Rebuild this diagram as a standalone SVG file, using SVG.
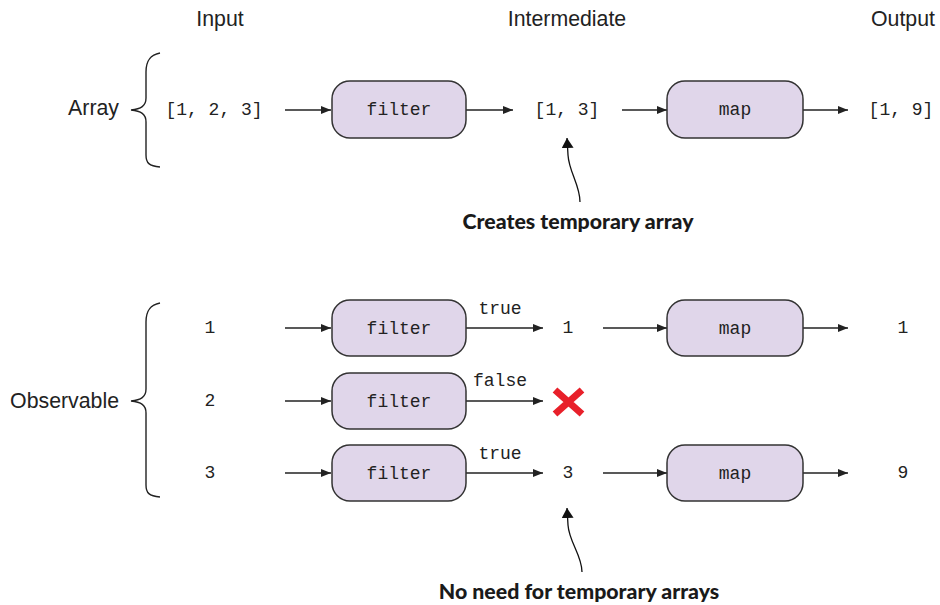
<svg xmlns="http://www.w3.org/2000/svg" width="940" height="605" viewBox="0 0 940 605">
<defs>
<marker id="ah" viewBox="0 0 10 8" refX="10" refY="4" markerWidth="10" markerHeight="8" markerUnits="userSpaceOnUse" orient="auto">
<path d="M0,0 L10,4 L0,8 Z" fill="#222"/>
</marker>
<marker id="ah2" viewBox="0 0 10 12" refX="10" refY="6" markerWidth="10" markerHeight="12" markerUnits="userSpaceOnUse" orient="auto">
<path d="M0,0 L10,6 L0,12 Z" fill="#111"/>
</marker>
</defs>
<style>
.hdr{font-family:"Liberation Sans",Arial,sans-serif;font-size:21.3px;fill:#222}
.mono{font-family:"Liberation Mono","Courier New",monospace;font-size:18px;fill:#222}
.box{fill:#e0d6ea;stroke:#333;stroke-width:1.5}
.conn{stroke:#222;stroke-width:1.3;fill:none;marker-end:url(#ah)}
.brace{stroke:#222;stroke-width:1.4;fill:none}
.call{font-family:Lato,"Liberation Sans",sans-serif;font-weight:900;font-size:21.3px;fill:#1a1a1a}
.cline{stroke:#111;stroke-width:1.3;fill:none;marker-end:url(#ah2)}
</style>
<rect width="940" height="605" fill="#fff"/>

<g id="headers">
<text class="hdr" x="220" y="26" text-anchor="middle">Input</text>
<text class="hdr" x="567" y="26" text-anchor="middle">Intermediate</text>
<text class="hdr" x="903" y="26" text-anchor="middle">Output</text>
</g>

<g id="array-label">
<text class="hdr" x="119" y="115" text-anchor="end">Array</text>
<path class="brace" d="M160,53 C149,55 146,62 146,72 L146,98 C146,106 141,109 131,110 C141,111 146,114 146,122 L146,155 C146,163 149,166 160,167"/>
</g>
<g id="obs-label">
<text class="hdr" x="119" y="408" text-anchor="end">Observable</text>
<path class="brace" d="M160,303 C149,305 146,312 146,322 L146,389 C146,397 141,400 131,401 C141,402 146,405 146,413 L146,485 C146,493 149,496 160,497"/>
</g>

<g id="connectors">
<line class="conn" x1="285" y1="110" x2="331" y2="110"/>
<line class="conn" x1="466" y1="110" x2="513" y2="110"/>
<line class="conn" x1="622" y1="110" x2="667" y2="110"/>
<line class="conn" x1="803" y1="110" x2="848" y2="110"/>

<line class="conn" x1="285" y1="328" x2="331" y2="328"/>
<line class="conn" x1="466" y1="328" x2="543" y2="328"/>
<line class="conn" x1="603" y1="328" x2="667" y2="328"/>
<line class="conn" x1="803" y1="328" x2="848" y2="328"/>

<line class="conn" x1="285" y1="401" x2="331" y2="401"/>
<line class="conn" x1="466" y1="401" x2="543" y2="401"/>

<line class="conn" x1="285" y1="473" x2="331" y2="473"/>
<line class="conn" x1="466" y1="473" x2="543" y2="473"/>
<line class="conn" x1="603" y1="473" x2="667" y2="473"/>
<line class="conn" x1="803" y1="473" x2="848" y2="473"/>

<path class="cline" d="M580,202 C580,185 569,172 568,155 L567,138"/>
<path class="cline" d="M582,572 C582,555 569,542 568,525 L567,508"/>
</g>

<g id="row-array">
<text class="mono" x="214" y="115" text-anchor="middle">[1, 2, 3]</text>
<text class="mono" x="567" y="115" text-anchor="middle">[1, 3]</text>
<text class="mono" x="901" y="115" text-anchor="middle">[1, 9]</text>
</g>
<g id="filter-a"><rect class="box" x="332" y="81" width="134" height="57" rx="18"/><text class="mono" x="399" y="115" text-anchor="middle">filter</text></g>
<g id="map-a"><rect class="box" x="667" y="81" width="136" height="57" rx="18"/><text class="mono" x="735" y="115" text-anchor="middle">map</text></g>

<g id="row1">
<text class="mono" x="210" y="333" text-anchor="middle">1</text>
<text class="mono" x="500" y="314" text-anchor="middle">true</text>
<text class="mono" x="568" y="333" text-anchor="middle">1</text>
<text class="mono" x="903" y="333" text-anchor="middle">1</text>
</g>
<g id="filter-1"><rect class="box" x="332" y="300" width="134" height="56" rx="18"/><text class="mono" x="399" y="334" text-anchor="middle">filter</text></g>
<g id="map-1"><rect class="box" x="667" y="300" width="136" height="56" rx="18"/><text class="mono" x="735" y="334" text-anchor="middle">map</text></g>

<g id="row2">
<text class="mono" x="210" y="406" text-anchor="middle">2</text>
<text class="mono" x="500" y="386" text-anchor="middle">false</text>
<path d="M555,390 L582,414 M582,390 L555,414" stroke="#e8202a" stroke-width="7" stroke-linecap="butt"/>
</g>
<g id="filter-2"><rect class="box" x="332" y="373" width="134" height="56" rx="18"/><text class="mono" x="399" y="407" text-anchor="middle">filter</text></g>

<g id="row3">
<text class="mono" x="210" y="478" text-anchor="middle">3</text>
<text class="mono" x="500" y="459" text-anchor="middle">true</text>
<text class="mono" x="568" y="478" text-anchor="middle">3</text>
<text class="mono" x="903" y="478" text-anchor="middle">9</text>
</g>
<g id="filter-3"><rect class="box" x="332" y="445" width="134" height="56" rx="18"/><text class="mono" x="399" y="479" text-anchor="middle">filter</text></g>
<g id="map-3"><rect class="box" x="667" y="445" width="136" height="56" rx="18"/><text class="mono" x="735" y="479" text-anchor="middle">map</text></g>

<g id="callouts">
<text class="call" x="578" y="229" text-anchor="middle">Creates temporary array</text>
<text class="call" x="579" y="599" text-anchor="middle">No need for temporary arrays</text>
</g>
</svg>
